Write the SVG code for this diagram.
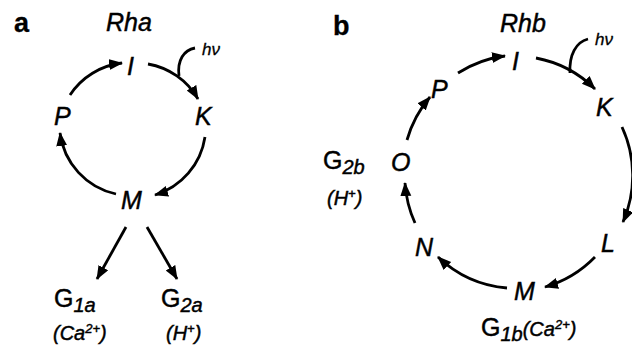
<svg xmlns="http://www.w3.org/2000/svg" width="632" height="350" viewBox="0 0 632 350">
<style>
text{font-family:"Liberation Sans",Arial,sans-serif;fill:#000;stroke:#000;stroke-width:0.45}
.n{font-size:25px;font-style:italic}
.t{font-size:25px;font-style:italic}
.p{font-size:27px;font-weight:bold;stroke-width:0.3}
.hv{font-size:17px;font-style:italic;stroke-width:0.3}
.g{font-size:25px}
.s{font-size:20px;font-style:italic}
.ion{font-size:20px;font-style:italic}
.c{fill:none;stroke:#000;stroke-width:2.8}
</style>
<defs>
<marker id="ah" markerUnits="userSpaceOnUse" markerWidth="16" markerHeight="14" refX="13" refY="5.5" orient="auto">
<path d="M0,0 L14,5.5 L0,11 z" fill="#000"/>
</marker>
</defs>
<rect width="632" height="350" fill="#fff"/>

<g id="panel-a-labels">
<text class="p" x="14" y="32">a</text>
<text class="t" x="106" y="31">Rha</text>
<text class="hv" x="202" y="55">hν</text>
</g>
<g id="a-I"><text class="n" x="127" y="75">I</text></g>
<g id="a-K"><text class="n" x="195" y="125">K</text></g>
<g id="a-P"><text class="n" x="54" y="125">P</text></g>
<g id="a-M"><text class="n" x="121" y="209">M</text></g>
<g id="a-G1a"><text class="g" x="54" y="307">G<tspan class="s" dy="5">1a</tspan></text>
<text class="ion" x="53" y="340">(Ca<tspan font-size="13" dy="-7">2+</tspan><tspan dy="7">)</tspan></text></g>
<g id="a-G2a"><text class="g" x="161" y="307">G<tspan class="s" dy="5">2a</tspan></text>
<text class="ion" x="166" y="340">(H<tspan font-size="13" dy="-7">+</tspan><tspan dy="7">)</tspan></text></g>

<g id="panel-b-labels">
<text class="p" x="333" y="35">b</text>
<text class="t" x="500" y="32">Rhb</text>
<text class="hv" x="595" y="45">hν</text>
</g>
<g id="b-I"><text class="n" x="512" y="70">I</text></g>
<g id="b-K"><text class="n" x="596" y="116">K</text></g>
<g id="b-P"><text class="n" x="431" y="98">P</text></g>
<g id="b-O"><text class="n" x="391" y="171">O</text></g>
<g id="b-G2b"><text class="g" x="323" y="169">G<tspan class="s" dy="5">2b</tspan></text>
<text class="ion" x="327" y="205">(H<tspan font-size="13" dy="-7">+</tspan><tspan dy="7">)</tspan></text></g>
<g id="b-N"><text class="n" x="415" y="256">N</text></g>
<g id="b-L"><text class="n" x="601" y="252">L</text></g>
<g id="b-M"><text class="n" x="514" y="300">M</text></g>
<g id="b-G1b"><text class="g" x="481" y="336">G<tspan class="s" dy="5">1b</tspan><tspan class="ion" dy="-5">(Ca</tspan><tspan font-size="13" font-style="italic" dy="-7">2+</tspan><tspan class="ion" dy="7">)</tspan></text></g>

<g id="connectors">
<path class="c" d="M70,95 A72,72 0 0 1 122,63" marker-end="url(#ah)"/>
<path class="c" d="M148,64 A72,72 0 0 1 198,99" marker-end="url(#ah)"/>
<path class="c" d="M205,137 A72,72 0 0 1 155,195" marker-end="url(#ah)"/>
<path class="c" d="M116,194 A72,72 0 0 1 60,133" marker-end="url(#ah)"/>
<path class="c" d="M195,48 C184,50 177,60 179,76"/>
<path class="c" d="M126,227 L97,279" marker-end="url(#ah)"/>
<path class="c" d="M147,227 L177,279" marker-end="url(#ah)"/>

<path class="c" d="M407,140 A114,114 0 0 1 430,97" marker-end="url(#ah)"/>
<path class="c" d="M458,73 A114,114 0 0 1 505,56" marker-end="url(#ah)"/>
<path class="c" d="M536,58 A114,114 0 0 1 595,89" marker-end="url(#ah)"/>
<path class="c" d="M622,127 A116,116 0 0 1 623,222" marker-end="url(#ah)"/>
<path class="c" d="M595,257 A114,114 0 0 1 545,287" marker-end="url(#ah)"/>
<path class="c" d="M507,288 A114,114 0 0 1 438,257" marker-end="url(#ah)"/>
<path class="c" d="M415,223 A114,114 0 0 1 405,183" marker-end="url(#ah)"/>
<path class="c" d="M588,39 C576,42 569,55 570,73"/>
</g>
</svg>
